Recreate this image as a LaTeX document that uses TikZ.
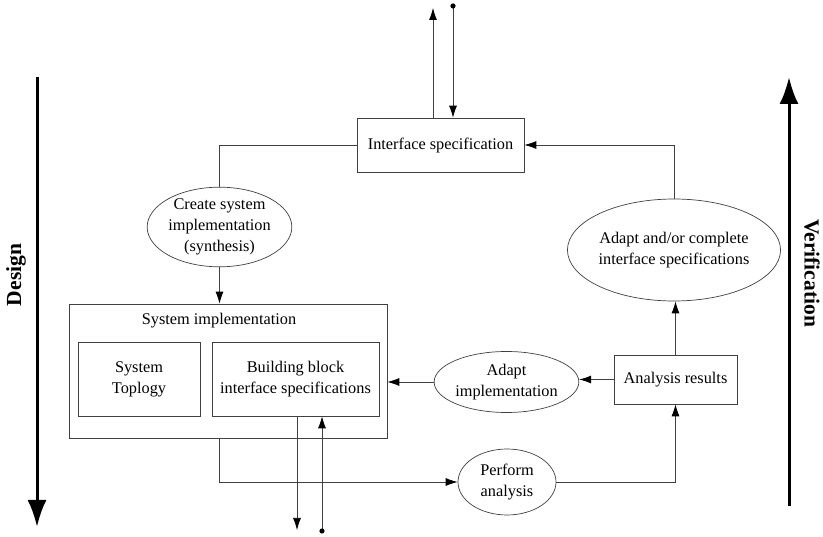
\documentclass[tikz,border=0pt]{standalone}
\usepackage{fontspec}
\setmainfont{Liberation Serif}
\usetikzlibrary{shapes.geometric,arrows.meta}
\tikzset{
    base/.style={draw=black!75, line width=0.7pt, inner sep=0pt, align=center,
        font=\fontsize{16.3}{21}\selectfont},
    box/.style={base, rectangle},
    oval/.style={base, ellipse},
    link/.style={draw=black!75, line width=0.75pt},
    flow/.style={link, -{Latex[length=12pt,width=8pt,fill=black,color=black]}},
    phase/.style={line width=3pt, -{Latex[length=27pt,width=19pt]}},
    phaselabel/.style={font=\fontsize{21.5}{24}\selectfont\bfseries}
}
\begin{document}
\begin{tikzpicture}[x=1pt,y=-1pt]
    \useasboundingbox (0,0) rectangle (823,537);

    % Spezifikation oben
    \node[box, minimum width=167pt, minimum height=54pt] (iface) at (440.5,145) {Interface specification};

    % Synthese
    \node[oval, minimum width=131pt, minimum height=70pt] (create) at (219.5,227) {Create system\\implementation\\(synthesis)};

    % Implementierung
    \node[box, minimum width=318pt, minimum height=134pt] (sysimpl) at (228,371) {};
    \node[font=\fontsize{16.3}{21}\selectfont] (sysimpl_lbl) at (219,321) {System implementation};
    \node[box, minimum width=122pt, minimum height=74pt] (topo) at (139,379) {System\\Toplogy};
    \node[box, minimum width=167pt, minimum height=74pt] (bbis) at (295.5,379) {Building block\\interface specifications};

    % Analyse
    \node[oval, minimum width=123pt, minimum height=61pt] (adaptimpl) at (506.5,382) {Adapt\\implementation};
    \node[box, minimum width=123pt, minimum height=49pt] (results) at (675.5,379.5) {Analysis results};
    \node[oval, minimum width=194pt, minimum height=102pt] (adaptspec) at (674,250) {Adapt and/or complete\\interface specifications};
    \node[oval, minimum width=98pt, minimum height=66pt] (perform) at (507,482) {Perform\\analysis};

    % Ein- und Ausgaenge
    \coordinate (if_out) at (433,8);
    \coordinate (if_in) at (453,6);
    \coordinate (bb_out) at (297,530);
    \coordinate (bb_in) at (322,531);

    % Verbindungen
    \draw[link] (iface.west) -| (create.north);
    \draw[flow] (create.south) -- (create.south |- sysimpl.north);
    \draw[flow] (create.south |- sysimpl.south) |- (perform.west);
    \draw[flow] (perform.east) -| (results.south);
    \draw[flow] (results.west) -- (results.west -| adaptimpl.east);
    \draw[flow] (adaptimpl.west) -- (adaptimpl.west -| sysimpl.east);
    \draw[flow] (results.north) -- (results.north |- adaptspec.south);
    \draw[flow] (adaptspec.north) |- (iface.east);

    \draw[flow] (if_out |- iface.north) -- (if_out);
    \draw[flow] (if_in) -- (if_in |- iface.north);
    \fill (if_in) circle (2.6pt);
    \draw[flow] (bb_out |- bbis.south) -- (bb_out);
    \draw[flow] (bb_in) -- (bb_in |- bbis.south);
    \fill (bb_in) circle (2.6pt);

    % Phasen
    \coordinate (design_top) at (37,77);
    \coordinate (design_end) at (37,527);
    \coordinate (verif_bot) at (789,506);
    \coordinate (verif_end) at (789,77);
    \draw[phase] (design_top) -- (design_end);
    \draw[phase] (verif_bot) -- (verif_end);
    \node[phaselabel, rotate=90] (design) at (16,275) {Design};
    \node[phaselabel, rotate=-90] (verif) at (812,273) {Verification};
\end{tikzpicture}
\end{document}
